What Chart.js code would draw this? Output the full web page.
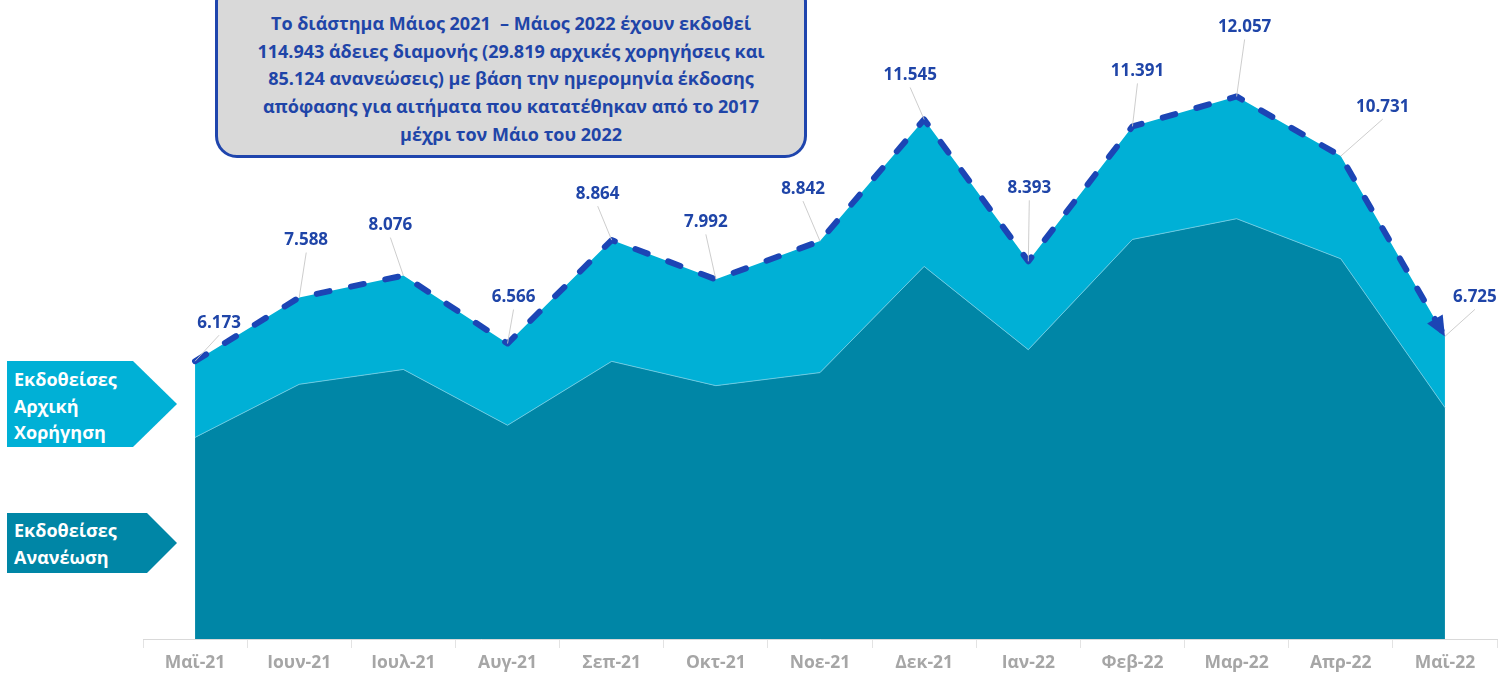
<!DOCTYPE html>
<html>
<head>
<meta charset="utf-8">
<script src="https://cdn.jsdelivr.net/npm/chart.js@4.4.1/dist/chart.umd.min.js"></script>
<style>
  html, body { margin: 0; padding: 0; background: #fff; }
  #wrap { position: relative; width: 1507px; height: 679px; overflow: hidden; font-family: "Open Sans", "Noto Sans", sans-serif; }
  #c { position: absolute; left: 0; top: 0; }
  .note { position: absolute; left: 215px; top: -20px; width: 592px; height: 178px; box-sizing: border-box;
    background: #d9d9d9; border: 3px solid #1f45ad; border-radius: 22px;
    color: #1f45a8; font-weight: 700; font-size: 18px; line-height: 27.7px; text-align: center; padding-top: 27px; white-space: nowrap; }
  .leg { position: absolute; left: 7px; color: #fff; font-weight: 700; font-size: 18px; line-height: 26.5px; box-sizing: border-box; padding-left: 7px; white-space: nowrap; }
  #leg1 { top: 361px; width: 170px; height: 86px; background: #00b0d6; clip-path: polygon(0 0, 126px 0, 170px 50%, 126px 100%, 0 100%); padding-top: 5px; }
  #leg2 { top: 513px; width: 170px; height: 60px; background: #0086a6; clip-path: polygon(0 0, 140px 0, 170px 50%, 140px 100%, 0 100%); padding-top: 4px; }
</style>
</head>
<body>
<div id="wrap">
  <canvas id="c" width="1507" height="679"></canvas>
  <div class="note">Το διάστημα Μάιος 2021&nbsp; – Μάιος 2022 έχουν εκδοθεί<br>114.943 άδειες διαμονής (29.819 αρχικές χορηγήσεις και<br>85.124 ανανεώσεις) με βάση την ημερομηνία έκδοσης<br>απόφασης για αιτήματα που κατατέθηκαν από το 2017<br>μέχρι τον Μάιο του 2022</div>
  <div class="leg" id="leg1">Εκδοθείσες<br>Αρχική<br>Χορήγηση</div>
  <div class="leg" id="leg2">Εκδοθείσες<br>Ανανέωση</div>
</div>
<script>
const months = ["Μαϊ-21","Ιουν-21","Ιουλ-21","Αυγ-21","Σεπ-21","Οκτ-21","Νοε-21","Δεκ-21","Ιαν-22","Φεβ-22","Μαρ-22","Απρ-22","Μαϊ-22"];
const renewals = [4480, 5660, 5990, 4750, 6170, 5630, 5920, 8280, 6430, 8880, 9340, 8450, 5144];
const initialGrants = [1693, 1928, 2086, 1816, 2694, 2362, 2922, 3265, 1963, 2511, 2717, 2281, 1581];
const totals = [6173, 7588, 8076, 6566, 8864, 7992, 8842, 11545, 8393, 11391, 12057, 10731, 6725];
const totalLabels = ["6.173","7.588","8.076","6.566","8.864","7.992","8.842","11.545","8.393","11.391","12.057","10.731","6.725"];

// label placement offsets (style only)
const labelOffsets = [[24,-38],[7,-57],[-13,-50],[6,-46],[-14,-46],[-10,-57],[-17,-52],[-14,-44],[1,-73],[5,-55],[8,-69],[42,-49],[30,-39]];

const FONT = '"Open Sans", "Noto Sans", sans-serif';

const labelPlugin = {
  id: 'totLabels',
  afterDatasetsDraw(chart) {
    const ctx = chart.ctx;
    const meta = chart.getDatasetMeta(2);
    const pts = meta.data;
    ctx.save();
    const a = pts[pts.length - 2], b = pts[pts.length - 1];
    const ang = Math.atan2(b.y - a.y, b.x - a.x);
    ctx.fillStyle = '#1c45b5';
    ctx.beginPath();
    ctx.moveTo(b.x, b.y);
    ctx.lineTo(b.x - 20*Math.cos(ang) + 9*Math.sin(ang), b.y - 20*Math.sin(ang) - 9*Math.cos(ang));
    ctx.lineTo(b.x - 20*Math.cos(ang) - 9*Math.sin(ang), b.y - 20*Math.sin(ang) + 9*Math.cos(ang));
    ctx.closePath();
    ctx.fill();
    ctx.font = 'bold 17px ' + FONT;
    ctx.textAlign = 'center';
    ctx.textBaseline = 'middle';
    pts.forEach((p, i) => {
      const lx = p.x + labelOffsets[i][0], ly = p.y + labelOffsets[i][1];
      ctx.strokeStyle = 'rgba(200,200,200,0.9)';
      ctx.lineWidth = 1;
      ctx.beginPath();
      ctx.moveTo(p.x, p.y);
      ctx.lineTo(lx, ly + 12);
      ctx.stroke();
      ctx.fillStyle = '#1f45a8';
      ctx.fillText(totalLabels[i], lx, ly);
    });
    ctx.restore();
  }
};

new Chart(document.getElementById('c'), {
  type: 'line',
  data: {
    labels: months,
    datasets: [
      { label: 'Εκδοθείσες Ανανέωση', data: renewals, stack: 'a', fill: 'origin',
        backgroundColor: '#0086a6', borderColor: 'rgba(110,205,228,0.9)', borderWidth: 1, pointRadius: 0, tension: 0 },
      { label: 'Εκδοθείσες Αρχική Χορήγηση', data: initialGrants, stack: 'a', fill: '-1',
        backgroundColor: '#00b0d6', borderColor: '#00b0d6', borderWidth: 0, pointRadius: 0, tension: 0 },
      { label: 'Σύνολο', data: totals, stack: 'b', fill: false,
        borderColor: '#1c45b5', borderWidth: 6, borderDash: [13, 22], borderCapStyle: 'round', borderJoinStyle: 'round', pointRadius: 0, tension: 0, order: -1 }
    ]
  },
  options: {
    responsive: false,
    animation: false,
    layout: { padding: { left: 143, right: 10, top: 9, bottom: 0 } },
    plugins: { legend: { display: false }, tooltip: { enabled: false } },
    scales: {
      x: {
        offset: true,
        grid: { offset: true, drawOnChartArea: false, tickLength: 9, color: '#e3e3e3' },
        border: { display: true, color: '#d9d9d9' },
        ticks: { color: '#a6a6a6', font: { family: FONT, size: 17.5, weight: 'bold' }, padding: 5, maxRotation: 0 }
      },
      y: { display: false, stacked: true, min: 0, max: 14000 }
    }
  },
  plugins: [labelPlugin]
});
</script>
</body>
</html>
